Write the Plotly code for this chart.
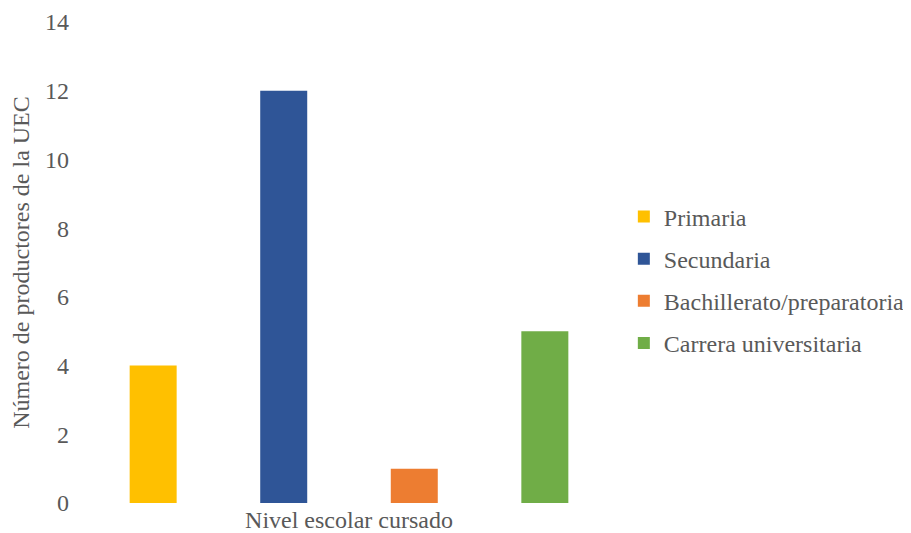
import plotly.graph_objects as go

categories = ["Nivel escolar cursado"]
series_names = ["Primaria", "Secundaria", "Bachillerato/preparatoria", "Carrera universitaria"]
series_values = [4, 12, 1, 5]
colors = ["#FFC000", "#2F5597", "#ED7D31", "#70AD47"]
y_ticks = [0, 2, 4, 6, 8, 10, 12, 14]

fig = go.Figure()
for i, (name, val, col) in enumerate(zip(series_names, series_values, colors)):
    fig.add_trace(go.Bar(x=categories, y=[val], name=name, marker=dict(color=col, line=dict(width=0)),
                         legendgroup=f"g{i}"))

font_family = "Liberation Serif, Times New Roman, serif"
fs = 24
fig.update_layout(
    width=911, height=533,
    barmode="group",
    bargap=0.047,
    bargroupgap=0.64,
    plot_bgcolor="white", paper_bgcolor="white",
    margin=dict(l=67, r=296, t=14, b=38),
    font=dict(family=font_family, size=fs, color="#595959"),
    showlegend=True,
    legend=dict(xref="container", yref="container", x=0.676, xanchor="left", y=0.49, yanchor="middle",
                font=dict(size=fs, color="#595959"), tracegroupgap=8,
                traceorder="grouped", itemwidth=30),
    xaxis=dict(showgrid=False, zeroline=False, showline=False, ticks="", automargin=False,
               tickfont=dict(size=fs, color="#595959")),
    yaxis=dict(range=[0, 14], tickvals=y_ticks, showgrid=False, zeroline=False, showline=False,
               ticks="", automargin=False, ticklabelstandoff=5, tickfont=dict(size=fs, color="#595959"),
               title=dict(text="Número de productores de la UEC", font=dict(size=fs, color="#595959"), standoff=10)),
)
fig.write_html("out.html")
